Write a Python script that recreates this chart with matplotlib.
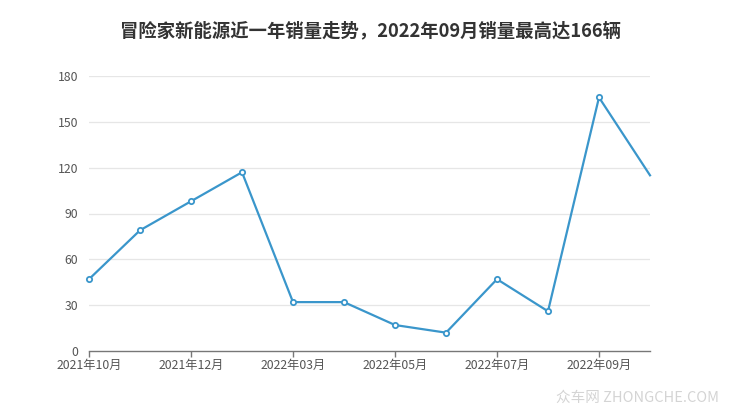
import matplotlib
matplotlib.use("Agg")
import matplotlib.pyplot as plt

plt.rcParams['font.family'] = ['Noto Sans CJK SC', 'DejaVu Sans']

months = ["2021年10月", "2021年11月", "2021年12月", "2022年01月", "2022年03月", "2022年04月",
          "2022年05月", "2022年06月", "2022年07月", "2022年08月", "2022年09月", "2022年10月"]
sales = [47, 79, 98, 117, 32, 32, 17, 12, 47, 26, 166, 115]
yticks = [0, 30, 60, 90, 120, 150, 180]
title = "冒险家新能源近一年销量走势，2022年09月销量最高达166辆"

W, H = 740, 417
fig = plt.figure(figsize=(W / 100, H / 100), dpi=100)
ax = fig.add_axes([89 / W, (H - 351) / H, (650 - 89) / W, (351 - 76) / H])

line_color = "#3a96cb"
x = list(range(len(months)))
ax.plot(x, sales, color=line_color, lw=1.6, zorder=3, clip_on=False)
ax.plot(x[:-1], sales[:-1], ls="none", marker="o", ms=3.8, mfc="white",
        mec=line_color, mew=1.3, zorder=4, clip_on=False)

ax.set_xlim(0, len(months) - 1)
ax.set_ylim(0, 180)
ax.set_yticks(yticks)
ax.set_yticklabels([str(v) for v in yticks])
ax.set_xticks(x[::2])
ax.set_xticklabels(months[::2])

for v in yticks[1:]:
    ax.axhline(v, color="#e6e6e6", lw=0.9, zorder=1)

for s in ["top", "right", "left"]:
    ax.spines[s].set_visible(False)
ax.spines["bottom"].set_color("#777777")
ax.spines["bottom"].set_linewidth(1.0)

ax.tick_params(axis="y", length=0, pad=8, labelsize=8.8, labelcolor="#555555")
ax.tick_params(axis="x", length=4, width=1, color="#777777", pad=2,
               labelsize=8.8, labelcolor="#555555")

fig.text(371 / W, 1 - 31 / H, title, ha="center", va="center",
         fontsize=13.2, fontweight="bold", color="#333333")
fig.text(638 / W, 1 - 398 / H, "众车网 ZHONGCHE.COM", ha="center", va="center",
         fontsize=10.5, color="#d4d4d4")

fig.savefig("out.png", dpi=100, facecolor="white")
